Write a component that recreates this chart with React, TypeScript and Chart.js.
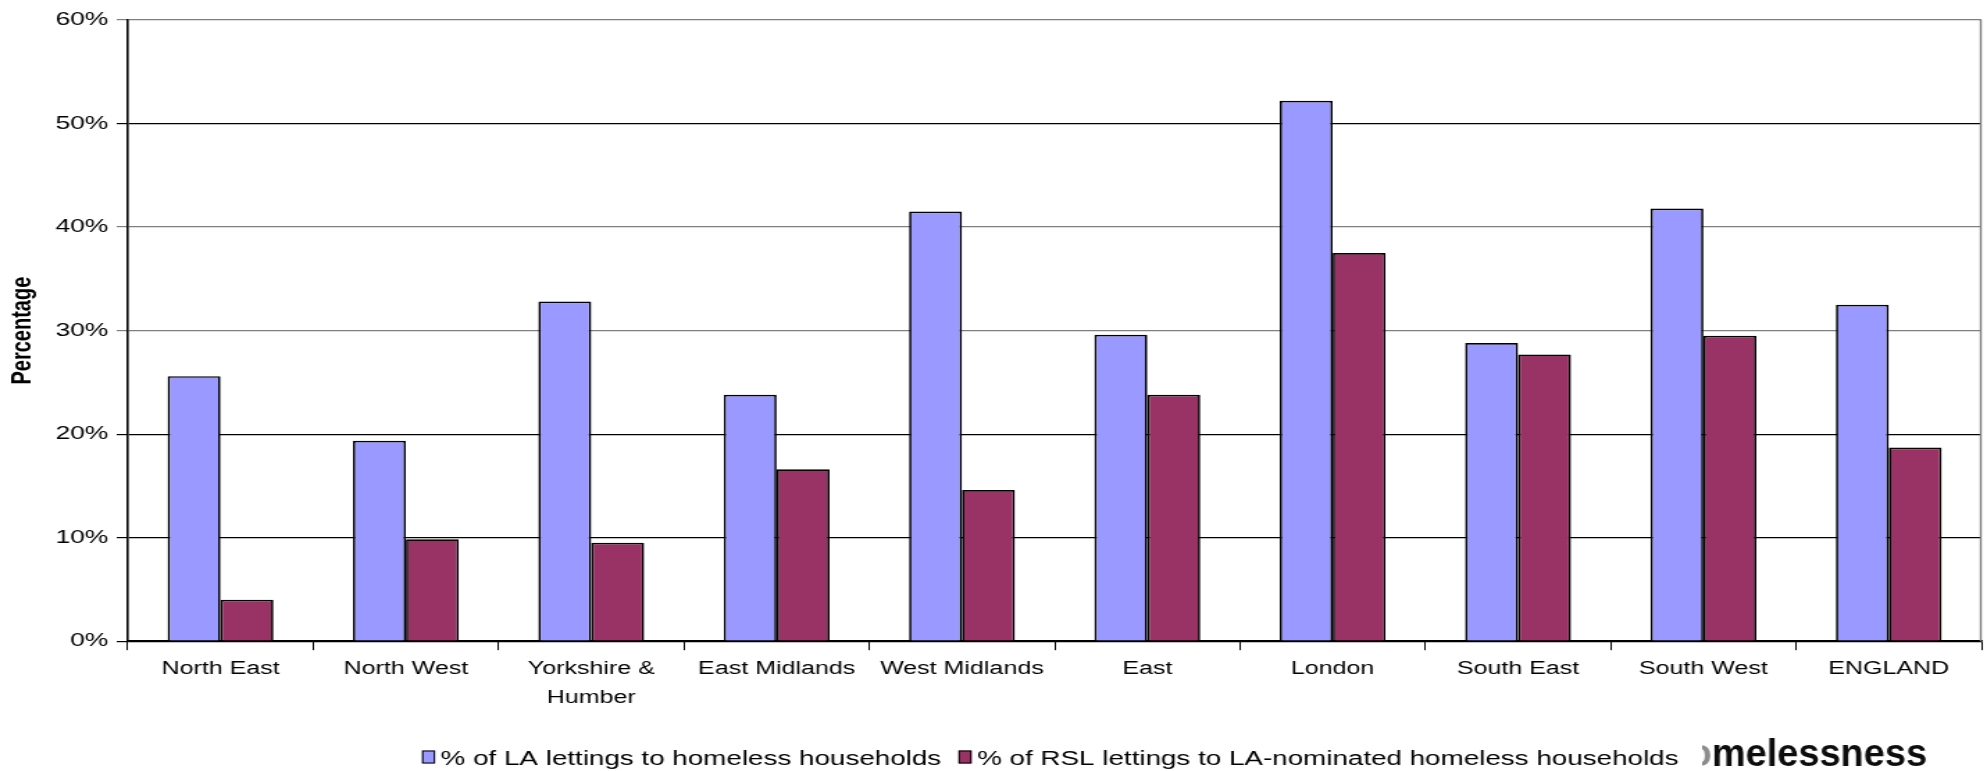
import React, { useEffect, useRef } from 'react';
import { Chart, registerables } from 'chart.js';

Chart.register(...registerables);

const categories: (string | string[])[] = [
  'North East',
  'North West',
  ['Yorkshire &', 'Humber'],
  'East Midlands',
  'West Midlands',
  'East',
  'London',
  'South East',
  'South West',
  'ENGLAND',
];
const laLettings = [25.6, 19.35, 32.8, 23.8, 41.5, 29.6, 52.2, 28.8, 41.8, 32.5];
const rslLettings = [4.0, 9.85, 9.5, 16.6, 14.6, 23.8, 37.5, 27.7, 29.5, 18.7];
const seriesLabels = [
  '% of LA lettings to homeless households',
  '% of RSL lettings to LA-nominated homeless households',
];
const yTickValues = [0, 10, 20, 30, 40, 50, 60];
const yTickLabels = ['0%', '10%', '20%', '30%', '40%', '50%', '60%'];
const cornerText = 'Homelessness';

const BASE_W = 1430;
const H = 771;
const STRETCH = 1987 / BASE_W;
const FONT = '"Liberation Sans", Arial, sans-serif';

const gridColorFor = (v: number) => {
  if (v === 60 || v === 40 || v === 30) return '#7f7f7f';
  return '#000000';
};

const decorPlugin = {
  id: 'decor',
  afterDraw(chart: any) {
    const ctx = chart.ctx as CanvasRenderingContext2D;
    const ca = chart.chartArea;
    // right border of plot area
    ctx.save();
    ctx.strokeStyle = '#7f7f7f';
    ctx.lineWidth = 1.4;
    ctx.beginPath();
    ctx.moveTo(ca.right - 0.5, ca.top);
    ctx.lineTo(ca.right - 0.5, ca.bottom);
    ctx.stroke();
    ctx.restore();

    // legend
    ctx.save();
    ctx.font = `20px ${FONT}`;
    ctx.textBaseline = 'alphabetic';
    ctx.textAlign = 'left';
    let x = 303.7;
    const swW = 9.4;
    const swH = 13;
    const swTop = 750.5;
    const baseline = 764.5;
    chart.data.datasets.forEach((ds: any) => {
      ctx.fillStyle = ds.backgroundColor;
      ctx.fillRect(x, swTop, swW, swH);
      ctx.strokeStyle = '#000';
      ctx.lineWidth = 1;
      ctx.strokeRect(x + 0.5, swTop + 0.5, swW - 1, swH - 1);
      x += swW + 4;
      ctx.fillStyle = '#000';
      ctx.fillText(ds.label, x, baseline);
      x += ctx.measureText(ds.label).width + 12.5;
    });
    ctx.restore();

    // cropped heading fragment at the bottom right
    ctx.save();
    ctx.font = `bold 39px ${FONT}`;
    const sx = 0.7;
    const mStart = 1232;
    const oW = ctx.measureText('o').width * sx;
    ctx.beginPath();
    ctx.rect(mStart - oW * 0.42, 700, 300, 71);
    ctx.clip();
    ctx.textBaseline = 'alphabetic';
    ctx.textAlign = 'left';
    ctx.translate(mStart, 766);
    ctx.scale(sx, 1);
    const head = cornerText.slice(0, 2);
    const rest = cornerText.slice(2);
    const hw = ctx.measureText(head).width;
    ctx.fillStyle = '#8c8c8c';
    ctx.fillText(head, -hw, 0);
    ctx.fillStyle = '#0d0d0d';
    ctx.fillText(rest, 0, 0);
    ctx.restore();
  },
};

export default function App() {
  const ref = useRef<HTMLCanvasElement | null>(null);

  useEffect(() => {
    document.body.style.margin = '0';
    const canvas = ref.current;
    if (!canvas) return;
    const chart = new Chart(canvas, {
      type: 'bar',
      data: {
        labels: categories as any,
        datasets: [
          {
            label: seriesLabels[0],
            data: laLettings,
            backgroundColor: '#9999ff',
            borderColor: '#000000',
            borderWidth: 1.7,
            categoryPercentage: 0.571,
            barPercentage: 1.0,
          },
          {
            label: seriesLabels[1],
            data: rslLettings,
            backgroundColor: '#993366',
            borderColor: '#000000',
            borderWidth: 1.7,
            categoryPercentage: 0.571,
            barPercentage: 1.0,
          },
        ],
      },
      options: {
        responsive: false,
        maintainAspectRatio: false,
        animation: false,
        devicePixelRatio: 1,
        layout: { padding: { left: 0, right: 4, top: 20, bottom: 54 } },
        plugins: {
          legend: { display: false },
          tooltip: { enabled: false },
          title: { display: false },
        },
        scales: {
          x: {
            type: 'category',
            offset: true,
            grid: {
              display: true,
              drawOnChartArea: false,
              drawTicks: true,
              tickLength: 9,
              offset: true,
              color: '#000000',
              lineWidth: 1,
            },
            border: { display: true, color: '#000000', width: 1.6 },
            ticks: {
              color: '#000000',
              font: { family: FONT, size: 18, lineHeight: 1.6 },
              padding: 4.6,
              maxRotation: 0,
              minRotation: 0,
              autoSkip: false,
            },
          },
          y: {
            min: 0,
            max: 60,
            afterFit: (scale: any) => {
              scale.width = 92;
            },
            afterBuildTicks: (scale: any) => {
              scale.ticks = yTickValues.map((v) => ({ value: v }));
            },
            grid: {
              drawTicks: true,
              tickLength: 8,
              color: (c: any) => gridColorFor(c.tick ? c.tick.value : 0),
              lineWidth: 1.2,
            },
            border: { display: true, color: '#000000', width: 1.6 },
            ticks: {
              color: '#000000',
              font: { family: FONT, size: 19 },
              padding: 6,
              callback: (v: any) => {
                const i = yTickValues.indexOf(Number(v));
                return i >= 0 ? yTickLabels[i] : '';
              },
            },
            title: {
              display: true,
              text: 'Percentage',
              color: '#000000',
              font: { family: FONT, size: 20, weight: 'bold', lineHeight: 1.2 },
              padding: { top: 4.5, bottom: 0 },
            },
          },
        },
      },
      plugins: [decorPlugin],
    });
    return () => {
      chart.destroy();
    };
  }, []);

  return (
    <div
      style={{
        position: 'fixed',
        left: 0,
        top: 0,
        width: 1987,
        height: H,
        overflow: 'hidden',
        background: '#ffffff',
      }}
    >
      <canvas
        ref={ref}
        width={BASE_W}
        height={H}
        style={{
          display: 'block',
          width: BASE_W + 'px',
          height: H + 'px',
          transform: `scaleX(${STRETCH})`,
          transformOrigin: '0 0',
        }}
      />
    </div>
  );
}
